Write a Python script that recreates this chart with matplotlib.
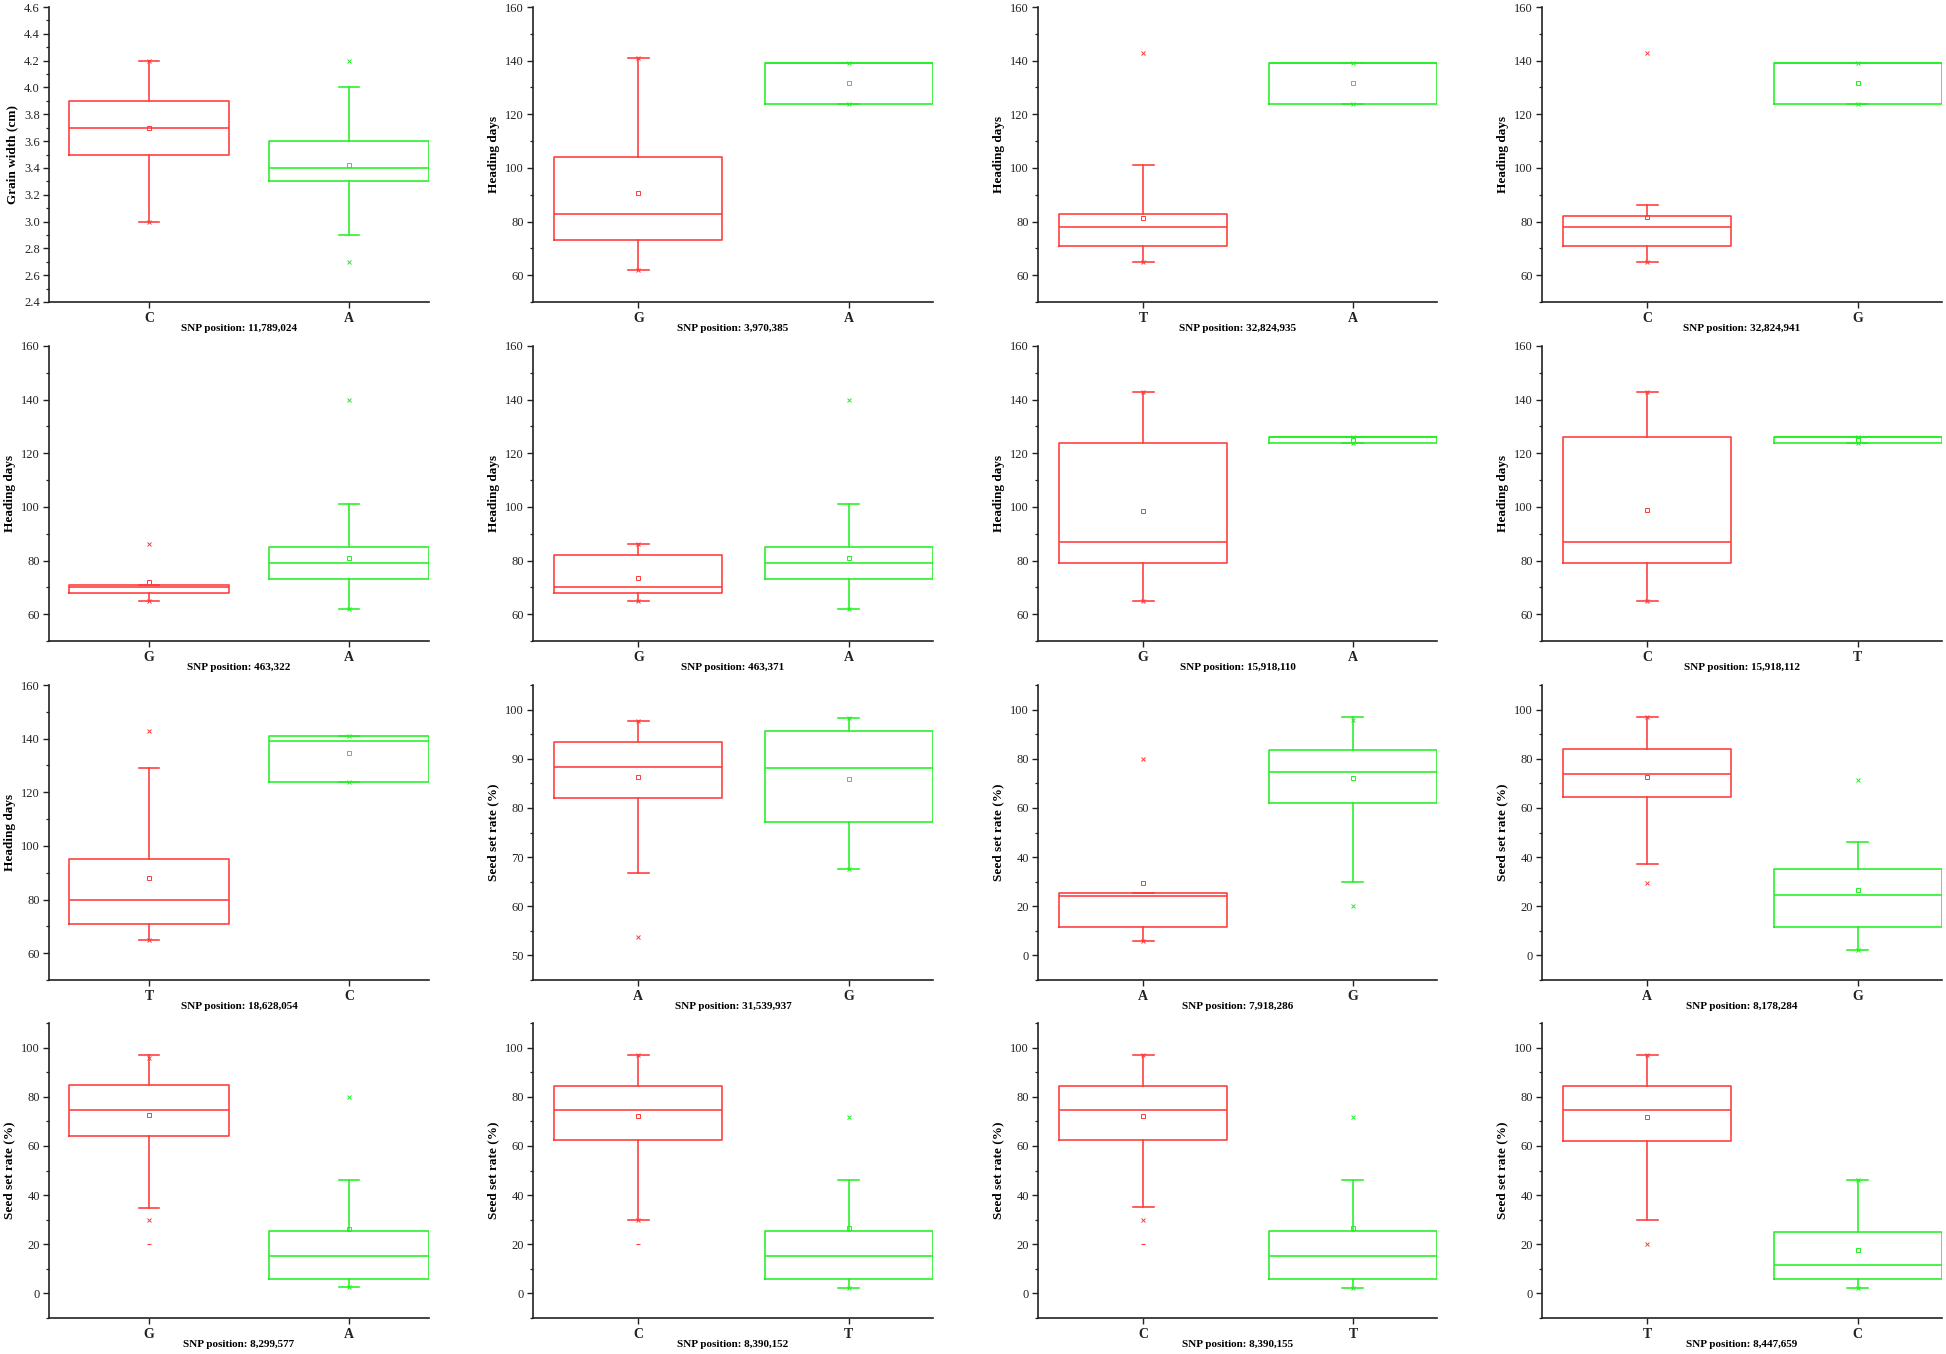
import matplotlib
matplotlib.use('Agg')
import matplotlib.pyplot as plt
from matplotlib.ticker import FixedLocator, MultipleLocator

plt.rcParams['font.family'] = ['Liberation Serif', 'DejaVu Serif']

# SNP panels, row by row
snp_positions = ['11,789,024', '3,970,385', '32,824,935', '32,824,941',
                 '463,322', '463,371', '15,918,110', '15,918,112',
                 '18,628,054', '31,539,937', '7,918,286', '8,178,284',
                 '8,299,577', '8,390,152', '8,390,155', '8,447,659']
alleles = [('C', 'A'), ('G', 'A'), ('T', 'A'), ('C', 'G'),
           ('G', 'A'), ('G', 'A'), ('G', 'A'), ('C', 'T'),
           ('T', 'C'), ('A', 'G'), ('A', 'G'), ('A', 'G'),
           ('G', 'A'), ('C', 'T'), ('C', 'T'), ('T', 'C')]
traits = ['Grain width (cm)'] + ['Heading days'] * 8 + ['Seed set rate (%)'] * 7

# box statistics (first allele, second allele)
q1 = [(3.5, 3.3), (73, 124), (71, 124), (71, 124),
      (68, 73), (68, 73), (79, 124), (79, 124),
      (71, 124), (82.1, 77.1), (11.7, 62.1), (64.3, 11.6),
      (64.0, 5.9), (62.5, 5.8), (62.5, 5.8), (62.1, 5.7)]
median = [(3.7, 3.4), (83, 139), (78, 139), (78, 139),
          (70, 79), (70, 79), (87, 126), (87, 126),
          (80, 139), (88.4, 88.1), (24.3, 74.8), (73.9, 24.6),
          (74.8, 15.3), (74.5, 15.3), (74.5, 15.3), (74.8, 11.5)]
q3 = [(3.9, 3.6), (104, 139), (83, 139), (82, 139),
      (71, 85), (82, 85), (124, 126), (126, 126),
      (95, 141), (93.5, 95.6), (25.4, 83.7), (84.0, 35.0),
      (84.6, 25.2), (84.5, 25.4), (84.5, 25.4), (84.2, 24.8)]
whisker_lo = [(3.0, 2.9), (62, 124), (65, 124), (65, 124),
              (65, 62), (65, 62), (65, 124), (65, 124),
              (65, 124), (66.8, 67.5), (5.7, 30.0), (37.0, 2.2),
              (34.9, 2.5), (30.0, 2.3), (35.0, 2.3), (29.7, 2.3)]
whisker_hi = [(4.2, 4.0), (141, 139), (101, 139), (86, 139),
              (71, 101), (86, 101), (143, 126), (143, 126),
              (129, 141), (97.7, 98.2), (25.4, 96.9), (97.0, 46.2),
              (97.0, 46.2), (97.0, 46.3), (97.0, 46.3), (97.0, 46.1)]
means = [(3.70, 3.42), (90.7, 131.5), (81.5, 131.5), (81.6, 131.5),
         (72, 81), (73.5, 81), (98.4, 125), (99, 125),
         (88, 134.7), (86.2, 85.9), (29.3, 72.1), (72.4, 26.5),
         (72.5, 26.4), (72.0, 26.5), (72.0, 26.5), (71.9, 17.7)]
# 1% / 99% markers (x) and min / max markers (-)
pct_marks = [([4.2, 3.0], [4.2, 2.7]), ([141, 62], [139, 124]), ([143, 65], [139, 124]), ([143, 65], [139, 124]),
             ([86, 65], [140, 62]), ([86, 65], [140, 62]), ([143, 65], [126, 124]), ([143, 65], [126, 124]),
             ([143, 65], [141, 124]), ([97.7, 53.8], [98.2, 67.5]), ([80, 5.7], [95.6, 20.3]), ([97, 29.6], [71.4, 2.2]),
             ([95.6, 29.8], [79.8, 2.5]), ([97, 30], [71.6, 2.3]), ([97, 30], [71.6, 2.3]), ([97, 20.2], [46.1, 2.3])]
minmax_marks = [([], [])] * 12 + [([20.3], []), ([20.3], []), ([20.3], []), ([], [])]

colors = ['#FF3A3A', '#22F022']

fig = plt.figure(figsize=(19.46, 13.54), dpi=100)
W, H = 1946, 1354
lefts = [49, 533, 1038, 1542]
widths = [380, 400, 399, 400]
tops = [7, 346, 685, 1023]
height = 295

for i in range(16):
    r, c = divmod(i, 4)
    ax = fig.add_axes([lefts[c] / W, 1 - (tops[r] + height) / H, widths[c] / W, height / H])

    for j in range(2):
        st = dict(q1=q1[i][j], med=median[i][j], q3=q3[i][j],
                  whislo=whisker_lo[i][j], whishi=whisker_hi[i][j],
                  mean=means[i][j], fliers=pct_marks[i][j], label=alleles[i][j])
        col = colors[j]
        ax.bxp([st], positions=[j + 1], widths=0.8, showmeans=True, capwidths=0.1,
               boxprops=dict(color=col, linewidth=1.15),
               whiskerprops=dict(color=col, linewidth=1.15),
               capprops=dict(color=col, linewidth=1.15),
               medianprops=dict(color=col, linewidth=1.15),
               meanprops=dict(marker='s', markersize=3.0, markerfacecolor='none',
                              markeredgecolor=col, markeredgewidth=0.7),
               flierprops=dict(marker='x', markersize=3.0, markeredgecolor=col,
                               markeredgewidth=0.7, linestyle='none'))
        if minmax_marks[i][j]:
            ax.plot([j + 1] * len(minmax_marks[i][j]), minmax_marks[i][j], linestyle='none',
                    marker='_', markersize=3.5, markeredgewidth=0.8, color=col)

    ax.set_xlim(0.5, 2.4)
    if i == 0:
        ax.set_ylim(2.4, 4.6)
        ax.yaxis.set_major_locator(FixedLocator([2.4 + 0.2 * k for k in range(12)]))
        ax.yaxis.set_minor_locator(MultipleLocator(0.1))
        ax.yaxis.set_major_formatter(plt.FuncFormatter(lambda v, p: f'{v:.1f}'))
    elif traits[i] == 'Heading days':
        ax.set_ylim(50, 160)
        ax.yaxis.set_major_locator(FixedLocator([60, 80, 100, 120, 140, 160]))
        ax.yaxis.set_minor_locator(MultipleLocator(10))
    elif i == 9:
        ax.set_ylim(45, 105)
        ax.yaxis.set_major_locator(FixedLocator([50, 60, 70, 80, 90, 100]))
        ax.yaxis.set_minor_locator(MultipleLocator(5))
    else:
        ax.set_ylim(-10, 110)
        ax.yaxis.set_major_locator(FixedLocator([0, 20, 40, 60, 80, 100]))
        ax.yaxis.set_minor_locator(MultipleLocator(10))

    ax.set_xticks([1, 2])
    ax.set_xticklabels(alleles[i], fontweight='bold', fontsize=10)
    ax.spines['top'].set_visible(False)
    ax.spines['right'].set_visible(False)
    for s in ('left', 'bottom'):
        ax.spines[s].set_linewidth(1.2)
        ax.spines[s].set_color('#222222')
    ax.tick_params(axis='both', which='major', direction='out', length=4.5, width=1.0,
                   colors='#222222', labelsize=9, pad=2)
    ax.tick_params(axis='y', which='minor', direction='out', length=2.5, width=0.9, colors='#222222')
    ax.tick_params(axis='x', labelsize=10, pad=3)
    ax.set_ylabel(traits[i], fontsize=9.5, fontweight='bold', labelpad=4)
    ax.set_xlabel('SNP position: ' + snp_positions[i], fontsize=8, fontweight='bold', labelpad=-1)

fig.savefig('out.png', dpi=100)
